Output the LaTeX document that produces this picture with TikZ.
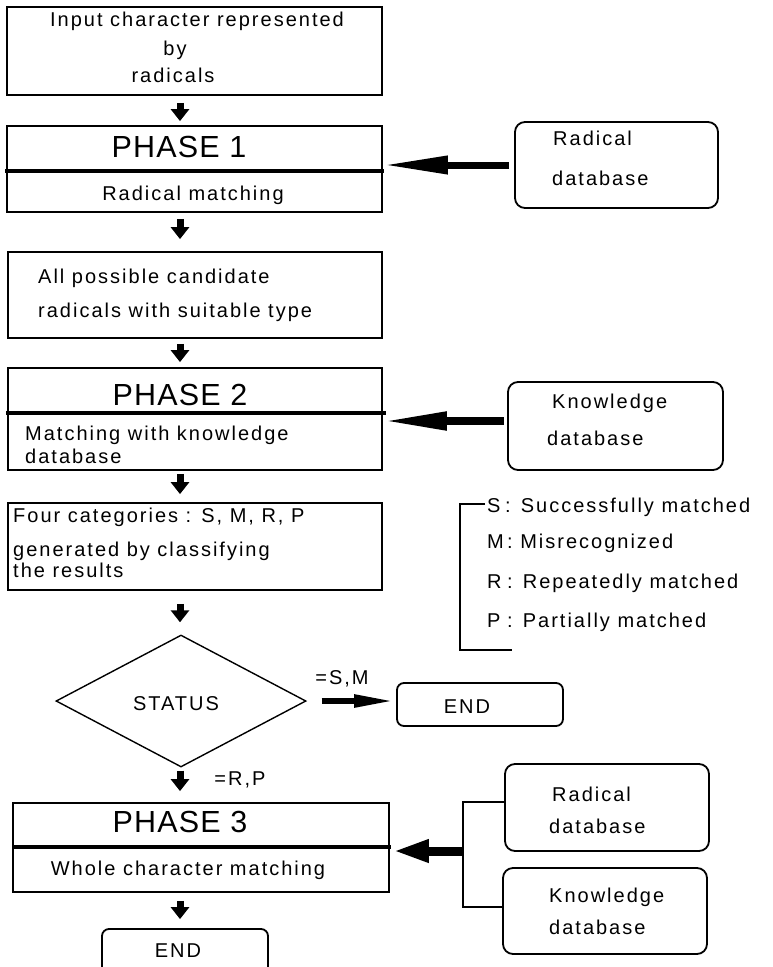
\documentclass[tikz,border=0pt]{standalone}
\usepackage{fontspec}
\setmainfont{Liberation Sans}[LetterSpace=10]
\newfontfamily\phasefont{Liberation Sans}[LetterSpace=4]
\usetikzlibrary{arrows.meta,shapes.geometric}

\begin{document}
\begin{tikzpicture}[x=1pt,y=-1pt,
  box/.style={draw, line width=1.8pt, inner sep=0pt},
  dbbox/.style={draw, line width=1.8pt, rounded corners=10pt, inner sep=0pt},
  endbox/.style={draw, line width=1.8pt, rounded corners=7pt, inner sep=0pt,
    minimum width=166pt},
  txt/.style={inner sep=0pt, font=\fontsize{20}{24}\selectfont},
  phase/.style={inner sep=0pt, font=\phasefont\fontsize{30.5}{36}\selectfont},
  divider/.style={line width=3.5pt},
  darr/.style={line width=7pt, -{Triangle[length=12pt,width=18pt]}},
  larr/.style={line width=7pt, -{Triangle[length=65pt,width=17pt]}},
  rarr/.style={line width=5.5pt, -{Triangle[length=40pt,width=12pt]}},
  barr/.style={line width=9pt, -{Triangle[length=36pt,width=21pt]}},
  thin/.style={line width=1.8pt}
]
\useasboundingbox (0,0) rectangle (772,967);
\clip (0,0) rectangle (772,967);
\fill[white] (0,0) rectangle (772,967);
\coordinate (ax) at (180,0);

% input box
\node[box, minimum width=375pt, minimum height=88pt] (b1) at (194.5,51) {};
\node[txt, anchor=base] (t1a) at (197,26) {Input character represented};
\node[txt, anchor=base] (t1b) at (175,55) {by};
\node[txt, anchor=base] (t1c) at (173,82) {radicals};

% phase 1
\node[box, minimum width=375pt, minimum height=86pt] (p1) at (194.5,169) {};
\draw[divider] (5,171) -- (384,171);
\node[phase, anchor=base] (p1a) at (179,157) {PHASE 1};
\node[txt, anchor=base] (p1b) at (193,200) {Radical matching};

\node[dbbox, minimum width=203pt, minimum height=86pt] (db1) at (616.5,165) {};
\node[txt, anchor=base west] (db1a) at (553,145) {Radical};
\node[txt, anchor=base west] (db1b) at (552,185) {database};
\draw[larr, shorten <=5pt] (db1.west) -- (db1.west -| p1.east);

% candidate radicals
\node[box, minimum width=374pt, minimum height=86pt] (b3) at (195,295) {};
\node[txt, anchor=base west] (b3a) at (38,283) {All possible candidate};
\node[txt, anchor=base west] (b3b) at (38,317) {radicals with suitable type};

% phase 2
\node[box, minimum width=374pt, minimum height=102pt] (p2) at (195,419) {};
\draw[divider] (6,413) -- (386,413);
\node[phase, anchor=base] (p2a) at (180,405) {PHASE 2};
\node[txt, anchor=base west] (p2b) at (25,440) {Matching with knowledge};
\node[txt, anchor=base west] (p2c) at (25,463) {database};

\node[dbbox, minimum width=215pt, minimum height=88pt] (kdb1) at (615.5,426) {};
\node[txt, anchor=base west] (kdb1a) at (552,408) {Knowledge};
\node[txt, anchor=base west] (kdb1b) at (547,445) {database};
\draw[larr, line width=8pt, shorten <=3pt, shorten >=-1pt]
  ([yshift=5pt]kdb1.west) -- ([yshift=5pt]kdb1.west -| p2.east);

% four categories
\node[box, minimum width=374pt, minimum height=87pt] (b4) at (195,546.5) {};
\node[txt, anchor=base west] (b4a) at (13,522) {Four categories : S, M, R, P};
\node[txt, anchor=base west] (b4b) at (13,556) {generated by classifying};
\node[txt, anchor=base west] (b4c) at (13,577) {the results};

% legend
\draw[thin] (485,504) -- (460,504) -- (460,650) -- (512,650);
\node[txt, anchor=base west] (lgS) at (487,512) {\makebox[18pt][l]{S}: Successfully matched};
\node[txt, anchor=base west] (lgM) at (487,548) {M\,: Misrecognized};
\node[txt, anchor=base west] (lgR) at (487,588) {\makebox[20pt][l]{R}: Repeatedly matched};
\node[txt, anchor=base west] (lgP) at (487,627) {\makebox[20pt][l]{P}: Partially matched};

% status decision
\node[draw, diamond, line width=1.4pt, minimum width=250pt, minimum height=132pt,
  inner sep=0pt] (st) at (181,701) {};
\node[txt, anchor=base] (sta) at (176,710) {STATUS};
\node[txt, anchor=base] (sm) at (342,684) {=S,M};
\node[endbox, minimum height=43pt] (end1) at (480,704.5) {};
\node[txt, anchor=base] (end1a) at (467,713) {END};
\draw[rarr, shorten <=15pt, shorten >=2pt] (st.east) -- (st.east -| end1.west);
\node[txt, anchor=base] (rp) at (240,785) {=R,P};

% phase 3
\node[box, minimum width=376pt, minimum height=89pt] (p3) at (201,847.5) {};
\draw[divider] (13,847) -- (391,847);
\node[phase, anchor=base] (p3a) at (180,832) {PHASE 3};
\node[txt, anchor=base] (p3b) at (188,875) {Whole character matching};

\node[endbox, minimum height=46pt] (end2) at (185,952) {};
\node[txt, anchor=base] (end2a) at (178,957) {END};

\node[dbbox, minimum width=204pt, minimum height=87pt] (rdb2) at (607,807.5) {};
\node[txt, anchor=base west] (rdb2a) at (552,801) {Radical};
\node[txt, anchor=base west] (rdb2b) at (549,833) {database};
\node[dbbox, minimum width=204pt, minimum height=86pt] (kdb2) at (605,911) {};
\node[txt, anchor=base west] (kdb2a) at (549,902) {Knowledge};
\node[txt, anchor=base west] (kdb2b) at (549,934) {database};
\coordinate (br) at (463,851);
\draw[thin] ([yshift=5.5pt]rdb2.west) -| (br) |- ([yshift=4pt]kdb2.west);
\draw[barr, shorten >=3pt] (br) -- (br -| p3.east);

% flow arrows
\draw[darr, shorten <=7pt, shorten >=4pt] (b1.south -| ax) -- (p1.north -| ax);
\draw[darr, shorten <=6pt, shorten >=12pt] (p1.south -| ax) -- (b3.north -| ax);
\draw[darr, shorten <=5pt, shorten >=5pt] (b3.south -| ax) -- (p2.north -| ax);
\draw[darr, shorten <=3pt, shorten >=8pt] (p2.south -| ax) -- (b4.north -| ax);
\draw[darr, shorten <=13pt, shorten >=12pt] (b4.south -| ax) -- (st.north -| ax);
\draw[darr, shorten <=3pt, shorten >=11pt] (st.south -| ax) -- (p3.north -| ax);
\draw[darr, shorten <=8pt, shorten >=9pt] (p3.south -| ax) -- (end2.north -| ax);
\end{tikzpicture}
\end{document}
